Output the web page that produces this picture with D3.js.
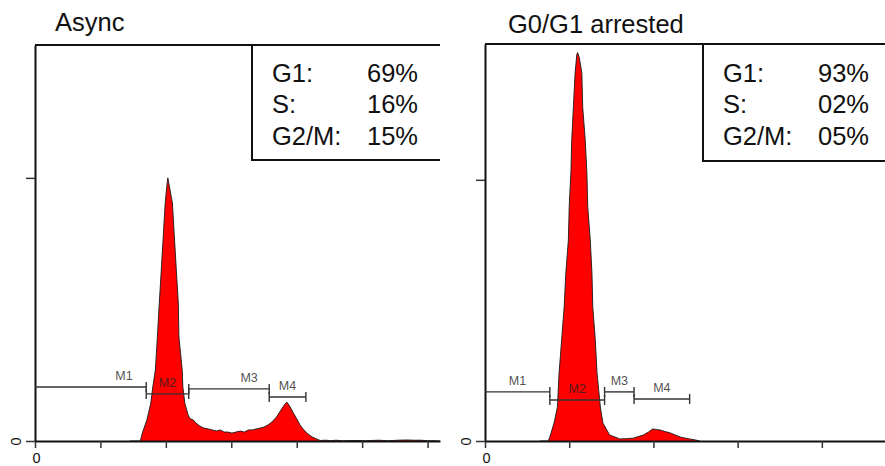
<!DOCTYPE html>
<html>
<head>
<meta charset="utf-8">
<script src="https://cdn.jsdelivr.net/npm/d3@7"></script>
<style>
  html, body { margin: 0; padding: 0; background: #fff; }
  svg { display: block; }
  text { font-family: "Liberation Sans", Arial, sans-serif; }
</style>
</head>
<body>
<svg id="chart" width="885" height="466"></svg>
<script>
// ---------------- DATA ----------------
const panelTitles = ["Async", "G0/G1 arrested"];
const phaseLabels = ["G1:", "S:", "G2/M:"];
const asyncPhaseValues = ["69%", "16%", "15%"];
const arrestedPhaseValues = ["93%", "02%", "05%"];

// DNA-content histogram, Async cells (channel, count)
const asyncChannel = [145,161,164,171,177,180,184,187,190,193,196,199,202,203,205,210,213,216,219,220,225,226,229,234,237,
  242,246,252,258,265,271,277,283,289,295,301,307,314,320,326,332,338,344,350,356,362,369,375,381,385,390,395,401,405,411,417,424,430,436,
  445,452,460,470,490,505,525,540,555,568,578,590,600,610,619];
const asyncCount = [0,0,3.0,8.0,14.4,20.5,27,39.5,52.5,65,77.6,90.5,98.1,100,97.3,90.5,77.6,65,52.5,39.5,27,20.5,14.4,9.9,8.5,
  8.0,6.8,5.7,4.9,4.6,4.2,3.8,4.2,3.4,3.4,3.0,3.4,3.8,3.4,4.2,4.2,4.6,4.9,5.3,6.1,7.2,9.1,11.4,13.7,14.8,12.9,10.6,8.0,6.1,4.2,2.7,1.5,0.8,0.2,
  0.3,0.1,0.3,0.1,0.2,0.1,0.3,0.1,0.3,0.4,0.3,0.3,0.1,0.1,0];

// DNA-content histogram, G0/G1 arrested cells (channel, count)
const arrestedChannel = [65,75,77,82,86,88,91,94,96,99,100,102,103,105,107,109,110,112,115,116,119,121,122,125,127,128,131,133,137,140,148,
  160,168,176,182,188,194,199,204,208,214,220,226,232,238,243,250,255];
const arrestedCount = [0,0,1.5,6.9,13.0,26.1,38.7,51.3,64.4,77.0,89.7,102.7,115.3,128.0,141.0,147.9,148.7,146.7,141.0,128.0,115.3,102.7,89.7,77.0,64.4,51.3,38.7,26.1,13.0,6.9,2.3,
  0.8,0.9,1.1,1.7,2.3,3.4,4.6,4.4,4.2,3.6,3.1,2.3,1.5,1.1,0.8,0.4,0];

// Marker gates
const markerNames = ["M1", "M2", "M3", "M4"];
const asyncMarkerStart = [0, 170, 235, 358];
const asyncMarkerEnd = [170, 235, 358, 414];
const asyncMarkerLevel = [20.5, 17.9, 19.8, 16.7];
const arrestedMarkerStart = [0, 77, 142, 177];
const arrestedMarkerEnd = [77, 142, 177, 243];
const arrestedMarkerLevel = [18.8, 15.7, 18.8, 16.1];

// Axes ticks
const asyncXTicks = [0, 100, 200, 300, 400, 500, 600];
const arrestedXTicks = [0, 100, 200, 300, 400];
const yTicks = [0, 100];
const zeroTickLabel = "0";

// ---------------- DRAWING ----------------
const svg = d3.select("#chart");

const panels = [
  {
    title: panelTitles[0], values: asyncPhaseValues,
    channel: asyncChannel, count: asyncCount,
    mStart: asyncMarkerStart, mEnd: asyncMarkerEnd, mLevel: asyncMarkerLevel,
    labelFrac: [0.8, 0.5, 0.75, 0.5],
    xTicks: asyncXTicks,
    xDomain: [0, 619], xRange: [35, 440],
    yDomain: [0, 150.5], yRange: [441, 45],
    titleX: 55, boxX: 252, boxBottom: 160, valX: 367, labX: 272
  },
  {
    title: panelTitles[1], values: arrestedPhaseValues,
    channel: arrestedChannel, count: arrestedCount,
    mStart: arrestedMarkerStart, mEnd: arrestedMarkerEnd, mLevel: arrestedMarkerLevel,
    labelFrac: [0.5, 0.5, 0.5, 0.5],
    xTicks: arrestedXTicks,
    xDomain: [0, 475], xRange: [485, 885],
    yDomain: [0, 152], yRange: [441, 44],
    titleX: 508, boxX: 703, boxBottom: 161, valX: 818, labX: 723
  }
];

panels.forEach((p, pi) => {
  const x = d3.scaleLinear().domain(p.xDomain).range(p.xRange);
  const y = d3.scaleLinear().domain(p.yDomain).range(p.yRange);
  const g = svg.append("g");

  const clipId = "clip" + pi;
  svg.append("clipPath").attr("id", clipId)
    .append("rect")
    .attr("x", p.xRange[0]).attr("y", p.yRange[1])
    .attr("width", p.xRange[1] - p.xRange[0]).attr("height", p.yRange[0] - p.yRange[1] + 1);

  const data = p.channel.map((c, i) => ({ c: c, v: p.count[i] }));

  // histogram
  const area = d3.area().x(d => x(d.c)).y0(y(0)).y1(d => y(d.v));
  const line = d3.line().x(d => x(d.c)).y(d => y(d.v));
  g.append("path").datum(data).attr("clip-path", `url(#${clipId})`)
    .attr("d", area).attr("fill", "#ff0000");
  g.append("path").datum(data).attr("clip-path", `url(#${clipId})`)
    .attr("d", line).attr("fill", "none").attr("stroke", "#1a1a1a").attr("stroke-width", 0.9);

  // top frame line
  g.append("line")
    .attr("x1", p.xRange[0]).attr("x2", p.xRange[1])
    .attr("y1", p.yRange[1]).attr("y2", p.yRange[1])
    .attr("stroke", "#111").attr("stroke-width", 2);

  // x axis
  const xAxis = d3.axisBottom(x).tickValues(p.xTicks).tickSize(7).tickSizeOuter(0).tickPadding(5)
    .tickFormat(d => d === 0 ? zeroTickLabel : "");
  const xg = g.append("g").attr("transform", `translate(0,${y(0)})`).call(xAxis);
  xg.select(".domain").attr("stroke", "#111").attr("stroke-width", 2);
  xg.selectAll(".tick line").attr("stroke", "#333").attr("stroke-width", 1.5);
  xg.selectAll(".tick text").attr("font-size", 14.5).attr("fill", "#111").attr("dx", 1)
    .style("font-family", "'Liberation Sans', Arial, sans-serif");

  // y axis
  const yAxis = d3.axisLeft(y).tickValues(yTicks).tickSize(9).tickSizeOuter(0)
    .tickFormat(d => d === 0 ? zeroTickLabel : "");
  const yg = g.append("g").attr("transform", `translate(${x(0)},0)`).call(yAxis);
  yg.select(".domain").attr("stroke", "#111").attr("stroke-width", 2);
  yg.selectAll(".tick line").attr("stroke", "#333").attr("stroke-width", 1.5);
  yg.selectAll(".tick text").attr("font-size", 14.5).attr("fill", "#111")
    .attr("x", 0).attr("dy", "0.35em").attr("text-anchor", "middle")
    .attr("transform", "translate(-19,0) rotate(-90)")
    .style("font-family", "'Liberation Sans', Arial, sans-serif");

  // markers
  markerNames.forEach((name, i) => {
    const x1 = x(p.mStart[i]), x2 = x(p.mEnd[i]), yy = y(p.mLevel[i]);
    const mg = g.append("g").attr("stroke", "#333").attr("stroke-width", 1.4);
    mg.append("line").attr("x1", x1).attr("x2", x2).attr("y1", yy).attr("y2", yy);
    if (p.mStart[i] > 0) mg.append("line").attr("x1", x1).attr("x2", x1).attr("y1", yy - 5).attr("y2", yy + 5);
    mg.append("line").attr("x1", x2).attr("x2", x2).attr("y1", yy - 5).attr("y2", yy + 5);
    g.append("text")
      .attr("x", x1 + (x2 - x1) * p.labelFrac[i]).attr("y", yy - 7)
      .attr("text-anchor", "middle").attr("font-size", 12.5)
      .attr("fill", "#222").attr("fill-opacity", 0.8)
      .text(name);
  });

  // stats box (cut at the panel's right edge)
  const bx = p.boxX, bt = p.yRange[1], bb = p.boxBottom, br = p.xRange[1];
  g.append("path")
    .attr("d", `M${br},${bt}H${bx}V${bb}H${br}`)
    .attr("fill", "#fff").attr("stroke", "#111").attr("stroke-width", 2);

  const rowY = [82, 113, 145];
  phaseLabels.forEach((lab, i) => {
    g.append("text").attr("x", p.labX).attr("y", rowY[i]).attr("font-size", 25.5)
      .attr("fill", "#111").text(lab);
    g.append("text").attr("x", p.valX).attr("y", rowY[i]).attr("font-size", 25.5)
      .attr("fill", "#111").text(p.values[i]);
  });

  // title
  g.append("text").attr("x", p.titleX).attr("y", pi === 0 ? 31 : 33)
    .attr("font-size", 25.5).attr("fill", "#111").text(p.title);
});
</script>
</body>
</html>
